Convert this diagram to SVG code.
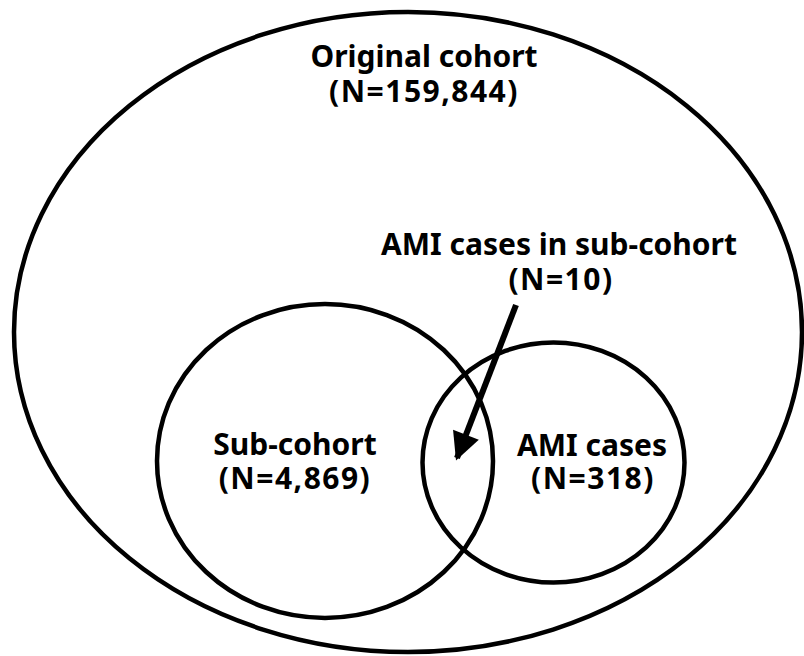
<svg xmlns="http://www.w3.org/2000/svg" width="804" height="656" viewBox="0 0 804 656">
<style>
.shape{fill:none;stroke:#000;stroke-width:4.5}
.lbl{font-family:"Noto Sans","Noto Sans CJK KR",sans-serif;font-size:30px;font-weight:bold;fill:#000;text-anchor:middle}
.num{letter-spacing:1.5px}
</style>
<defs>
<marker id="ah" viewBox="0 0 10 10" refX="9" refY="5" markerWidth="5" markerHeight="4.6" orient="auto" markerUnits="strokeWidth">
<path d="M0,0 L10,5 L0,10 z" fill="#000"/>
</marker>
</defs>
<rect width="804" height="656" fill="#fff"/>
<g id="original-cohort">
<ellipse class="shape" cx="408" cy="332" rx="394" ry="320"/>
<text class="lbl" x="424" y="67">Original cohort</text>
<text class="lbl num" x="424" y="102">(N=159,844)</text>
</g>
<g id="sub-cohort">
<ellipse class="shape" cx="325" cy="461" rx="168" ry="157"/>
<text class="lbl" x="295" y="455">Sub-cohort</text>
<text class="lbl num" x="295" y="489">(N=4,869)</text>
</g>
<g id="ami-cases">
<ellipse class="shape" cx="553.5" cy="462.5" rx="131" ry="120"/>
<text class="lbl" x="592" y="456">AMI cases</text>
<text class="lbl num" x="593" y="489">(N=318)</text>
</g>
<g id="ami-in-sub">
<text class="lbl" x="559" y="255">AMI cases in sub-cohort</text>
<text class="lbl num" x="561" y="290">(N=10)</text>
</g>
<g id="connectors">
<line x1="516" y1="305" x2="457" y2="458" stroke="#000" stroke-width="6" marker-end="url(#ah)"/>
</g>
</svg>
